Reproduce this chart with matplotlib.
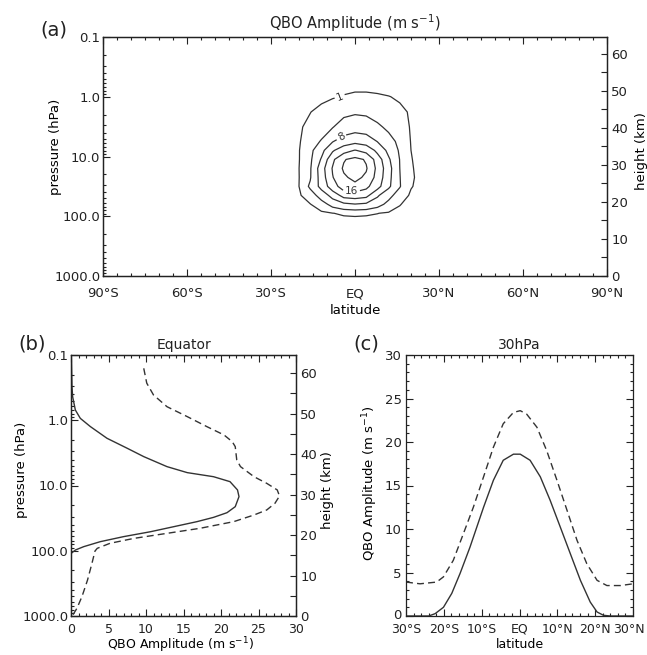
import numpy as np
import matplotlib
matplotlib.use("Agg")
import matplotlib.pyplot as plt
import matplotlib.transforms as mtransforms
from matplotlib.ticker import FixedLocator, MultipleLocator, LogLocator, NullFormatter, FixedFormatter

plt.rcParams['font.family'] = ['DejaVu Sans']
plt.rcParams['mathtext.default'] = 'regular'

# ---------------- data ----------------
# (a) latitude-pressure field of QBO amplitude (m/s)
field_lat = [-30, -25, -20, -16, -12, -8, -4, 0, 4, 8, 12, 16, 20, 25, 30]
field_p = [0.1, 0.32, 0.56, 1.0, 1.8, 3.2, 5.6, 7.9, 11.2, 15.8, 22.4, 31.6,
           44.7, 63.1, 89.1, 126, 316, 1000]
field_amp = [
    [0, 0, 0, 0, 0, 0.05, 0.1, 0.1, 0.1, 0.1, 0.05, 0, 0, 0, 0],
    [0, 0, 0, 0.05, 0.1, 0.2, 0.3, 0.3, 0.3, 0.25, 0.2, 0.1, 0.05, 0, 0],
    [0, 0, 0, 0.1, 0.2, 0.35, 0.5, 0.5, 0.5, 0.45, 0.35, 0.25, 0.1, 0, 0],
    [0, 0.05, 0.2, 0.4, 0.6, 0.85, 1.1, 1.3, 1.3, 1.2, 1.05, 0.8, 0.4, 0.1, 0],
    [0, 0.1, 0.45, 0.95, 1.6, 2.4, 3.2, 3.6, 3.4, 2.9, 2.2, 1.4, 0.8, 0.2, 0],
    [0, 0.1, 0.7, 1.6, 2.6, 3.8, 5.8, 6.5, 6.2, 4.6, 3.3, 2.2, 0.8, 0.15, 0],
    [0, 0.1, 0.8, 2.3, 4.3, 7.8, 10.0, 11.0, 10.3, 7.9, 5.5, 3.0, 0.9, 0.1, 0],
    [0, 0.1, 0.9, 3.0, 6.8, 11.5, 14.5, 16.2, 14.8, 11.0, 7.0, 3.5, 1.0, 0.1, 0],
    [0, 0.1, 0.9, 3.3, 8.4, 15.2, 19.7, 21.2, 19.6, 14.2, 8.6, 3.9, 1.1, 0.1, 0],
    [0, 0.1, 0.98, 3.6, 10.2, 16.3, 20.6, 22.5, 20.4, 15.0, 9.5, 4.0, 1.2, 0.1, 0],
    [0, 0.1, 0.95, 3.7, 9.8, 15.8, 19.3, 21.2, 19.2, 14.6, 9.2, 4.1, 1.3, 0.1, 0],
    [0, 0.05, 1.0, 4.6, 9.3, 14.2, 18.0, 18.6, 17.0, 13.4, 8.8, 4.2, 1.15, 0.05, 0],
    [0, 0, 0.7, 2.3, 5.5, 9.5, 13.5, 14.0, 13.2, 8.6, 5.0, 2.5, 0.6, 0, 0],
    [0, 0, 0.2, 0.9, 2.5, 5.2, 7.0, 7.8, 7.2, 5.3, 3.0, 1.1, 0.3, 0, 0],
    [0, 0, 0, 0.2, 0.5, 0.95, 1.3, 1.4, 1.3, 1.05, 0.7, 0.4, 0.1, 0, 0],
    [0, 0, 0, 0, 0, 0.05, 0.1, 0.15, 0.1, 0.05, 0, 0, 0, 0, 0],
    [0] * 15,
    [0] * 15,
]
contour_levels = [1, 4, 8, 12, 16, 20]
label_spots_lat = [-6, -4.8, -1.2]
label_spots_p = [0.87, 4.8, 36.0]

# (b) equatorial profiles
eq_solid_p = [0.1, 0.305, 0.436, 0.697, 0.935, 1.25, 1.89, 2.69, 3.61, 5.14,
              6.35, 7.33, 8.73, 11.7, 14.8, 21.1, 26.1, 30.8, 35.8, 41.8,
              51.1, 60.8, 72.6, 86.5, 97.3, 110, 1000]
eq_solid_amp = [0.04, 0.13, 0.22, 0.58, 1.24, 2.58, 4.8, 7.5, 9.7, 12.8,
                15.5, 19.0, 21.2, 22.2, 22.4, 21.9, 20.8, 19.0, 16.8, 14.1,
                10.6, 7.0, 3.9, 1.7, 0.6, 0.0, 0.0]
eq_dash_p = [0.16, 0.27, 0.41, 0.62, 0.88, 1.25, 1.68, 2.13, 2.54, 4.06,
             5.14, 7.33, 9.27, 11.7, 14.5, 18.7, 23.7, 28.3, 35.8, 45.3,
             54.1, 64.6, 76.9, 91.8, 101, 155, 282, 501, 759, 955]
eq_dash_amp = [9.7, 10.1, 11.0, 12.8, 15.5, 18.1, 20.4, 21.5, 21.9, 22.1,
               22.6, 24.4, 26.1, 27.5, 27.8, 27.2, 26.1, 24.4, 21.7, 17.2,
               12.8, 8.4, 5.2, 3.5, 3.2, 2.8, 2.2, 1.47, 0.8, 0.27]

# (c) 30 hPa latitudinal profiles
lat30_solid_lat = [-30, -24, -22.3, -20.1, -17.9, -15.7, -13.1, -11.3, -9.5,
                   -6.9, -4.3, -1.6, 0.2, 2.8, 5.5, 8.1, 10.8, 13.4, 16.1,
                   18.7, 20.5, 22.2, 24, 30]
lat30_solid_amp = [0, 0, 0.27, 1.0, 2.6, 4.9, 7.9, 10.2, 12.5, 15.6, 17.9,
                   18.6, 18.6, 17.9, 16.0, 13.3, 10.2, 7.2, 4.1, 1.6, 0.46,
                   0.08, 0, 0]
lat30_dash_lat = [-30, -26.3, -21.9, -20.1, -17.5, -14.8, -12.2, -9.5, -6.9,
                  -4.3, -1.6, 0.2, 1.9, 4.6, 7.2, 9.9, 12.6, 15.2, 17.8, 20.5,
                  23.1, 26.7, 30]
lat30_dash_amp = [3.9, 3.7, 3.9, 4.5, 6.4, 9.5, 12.5, 16.0, 19.4, 22.1, 23.4,
                  23.6, 23.2, 21.7, 19.0, 15.6, 12.1, 8.7, 6.0, 4.1, 3.5, 3.5,
                  3.7]

pressure_ticks = [0.1, 1, 10, 100, 1000]
pressure_labels = ['0.1', '1.0', '10.0', '100.0', '1000.0']
height_ticks = [0, 10, 20, 30, 40, 50, 60]
lat_ticks_a = [-90, -60, -30, 0, 30, 60, 90]
lat_labels_a = ['90°S', '60°S', '30°S', 'EQ', '30°N', '60°N', '90°N']
lat_ticks_c = [-30, -20, -10, 0, 10, 20, 30]
lat_labels_c = ['30°S', '20°S', '10°S', 'EQ', '10°N', '20°N', '30°N']
amp_ticks_b = [0, 5, 10, 15, 20, 25, 30]
amp_ticks_c = [0, 5, 10, 15, 20, 25, 30]

SCALE_HEIGHT = 7.0  # km

# ---------------- style ----------------
W, H = 647, 655
INK = '#222222'
LINE = '#333333'
FS = 9.5
plt.rcParams['text.color'] = INK
plt.rcParams['axes.edgecolor'] = INK
plt.rcParams['xtick.color'] = INK
plt.rcParams['ytick.color'] = INK

fig = plt.figure(figsize=(W / 100, H / 100), dpi=100)


def box(l, t, r, b):
    return [l / W, 1 - b / H, (r - l) / W, (b - t) / H]


def style_ticks(ax):
    ax.tick_params(axis='both', which='both', direction='in', labelsize=FS,
                   width=0.8)
    ax.tick_params(axis='both', which='major', length=5)
    ax.tick_params(axis='both', which='minor', length=2.5)


def pressure_axis(ax):
    ax.set_yscale('log')
    ax.set_ylim(1000, 0.1)
    ax.yaxis.set_major_locator(FixedLocator(pressure_ticks))
    ax.yaxis.set_major_formatter(FixedFormatter(pressure_labels))
    ax.yaxis.set_minor_locator(LogLocator(base=10, subs=np.arange(2, 10)))
    ax.yaxis.set_minor_formatter(NullFormatter())
    ax.tick_params(axis='y', which='both', left=True, right=False)


def height_axis(ax, xl, yl):
    h = ax.twinx()
    h.set_ylim(0, SCALE_HEIGHT * np.log(1000 / 0.1))
    h.yaxis.set_major_locator(FixedLocator(height_ticks))
    h.yaxis.set_minor_locator(MultipleLocator(5))
    h.tick_params(axis='y', which='both', direction='in', labelsize=FS,
                  length=4, width=0.8, pad=3)
    h.set_ylabel('height (km)', fontsize=FS)
    h.yaxis.set_label_coords(xl, yl)
    h.yaxis.label.set_ha('center')
    h.yaxis.label.set_va('center')
    for s in h.spines.values():
        s.set_linewidth(0.9)
    return h


def set_labels(ax, xlabel, ylabel, xc, yc):
    ax.set_xlabel(xlabel, fontsize=FS)
    ax.xaxis.set_label_coords(*xc)
    ax.xaxis.label.set_va('center')
    ax.set_ylabel(ylabel, fontsize=FS)
    ax.yaxis.set_label_coords(*yc)
    ax.yaxis.label.set_ha('center')
    ax.yaxis.label.set_va('center')


# ---------------- (a) ----------------
axa = fig.add_axes(box(103, 37, 607, 276))
cs = axa.contour(field_lat, field_p, np.array(field_amp), levels=contour_levels,
                 colors=LINE, linewidths=0.9)
pressure_axis(axa)
axa.set_xlim(-90, 90)
axa.xaxis.set_major_locator(FixedLocator(lat_ticks_a))
axa.xaxis.set_major_formatter(FixedFormatter(lat_labels_a))
axa.xaxis.set_minor_locator(MultipleLocator(5))
style_ticks(axa)
axa.tick_params(axis='x', which='both', top=True, bottom=True, pad=8)
axa.tick_params(axis='y', pad=2)
axa.clabel(cs, fmt='%d', fontsize=7.5, inline=True, inline_spacing=2,
           manual=list(zip(label_spots_lat, label_spots_p)))
set_labels(axa, 'latitude', 'pressure (hPa)',
           ((355 - 103) / 504, (276 - 311) / 239),
           ((56 - 103) / 504, (276 - 147) / 239))
height_axis(axa, (641 - 103) / 504, (276 - 151) / 239)
axa.text(0.5, (276 - 23) / 239, r'QBO Amplitude (m s$^{-1}$)', transform=axa.transAxes,
         ha='center', va='center', fontsize=10.5)
fig.text(54 / W, 1 - 30 / H, '(a)', ha='center', va='center', fontsize=14)

# ---------------- (b) ----------------
axb = fig.add_axes(box(71, 355, 296, 616))
axb.plot(eq_solid_amp, eq_solid_p, color=LINE, lw=1.0)
axb.plot(eq_dash_amp, eq_dash_p, color=LINE, lw=1.0, ls=(0, (5, 3)))
pressure_axis(axb)
axb.set_xlim(0, 30)
axb.xaxis.set_major_locator(FixedLocator(amp_ticks_b))
axb.xaxis.set_minor_locator(MultipleLocator(1))
style_ticks(axb)
axb.tick_params(axis='x', which='both', top=True, bottom=True, pad=5,
                labelsize=9)
axb.tick_params(axis='y', pad=2)
set_labels(axb, r'QBO Amplitude (m s$^{-1}$)', 'pressure (hPa)',
           ((180 - 71) / 225, (616 - 645) / 261),
           ((22 - 71) / 225, (616 - 470) / 261))
axb.xaxis.label.set_fontsize(9)
height_axis(axb, (327 - 71) / 225, (616 - 490) / 261)
axb.set_title('Equator', fontsize=FS + 0.5, pad=4)
fig.text(32 / W, 1 - 344 / H, '(b)', ha='center', va='center', fontsize=14)

# ---------------- (c) ----------------
axc = fig.add_axes(box(406, 355, 633, 616))
axc.plot(lat30_solid_lat, lat30_solid_amp, color=LINE, lw=1.0)
axc.plot(lat30_dash_lat, lat30_dash_amp, color=LINE, lw=1.0, ls=(0, (5, 3)))
axc.set_xlim(-30, 30)
axc.set_ylim(0, 30)
axc.xaxis.set_major_locator(FixedLocator(lat_ticks_c))
axc.xaxis.set_major_formatter(FixedFormatter(lat_labels_c))
axc.xaxis.set_minor_locator(MultipleLocator(2))
axc.yaxis.set_major_locator(FixedLocator(amp_ticks_c))
axc.yaxis.set_minor_locator(MultipleLocator(1))
style_ticks(axc)
axc.tick_params(axis='x', which='both', top=True, bottom=True, pad=5,
                labelsize=9)
axc.tick_params(axis='y', which='both', left=True, right=True, pad=3)
set_labels(axc, 'latitude', r'QBO Amplitude (m s$^{-1}$)',
           (0.5, (616 - 645) / 261),
           ((370 - 406) / 226.7, (616 - 483) / 261))
axc.xaxis.label.set_fontsize(9)
axc.set_title('30hPa', fontsize=FS + 0.5, pad=4)
fig.text(366 / W, 1 - 344 / H, '(c)', ha='center', va='center', fontsize=14)

# keep edge labels clear of each other and of the figure edge
fig.canvas.draw()
last = axc.get_xticklabels()[-1]
last.set_transform(last.get_transform() +
                   mtransforms.ScaledTranslation(-4 / 100, 0, fig.dpi_scale_trans))
zero = axc.get_yticklabels()[0]
zero.set_transform(zero.get_transform() +
                   mtransforms.ScaledTranslation(0, 2 / 100, fig.dpi_scale_trans))

for ax in (axa, axb, axc):
    for s in ax.spines.values():
        s.set_linewidth(0.9)

fig.savefig('out.png', dpi=100)
